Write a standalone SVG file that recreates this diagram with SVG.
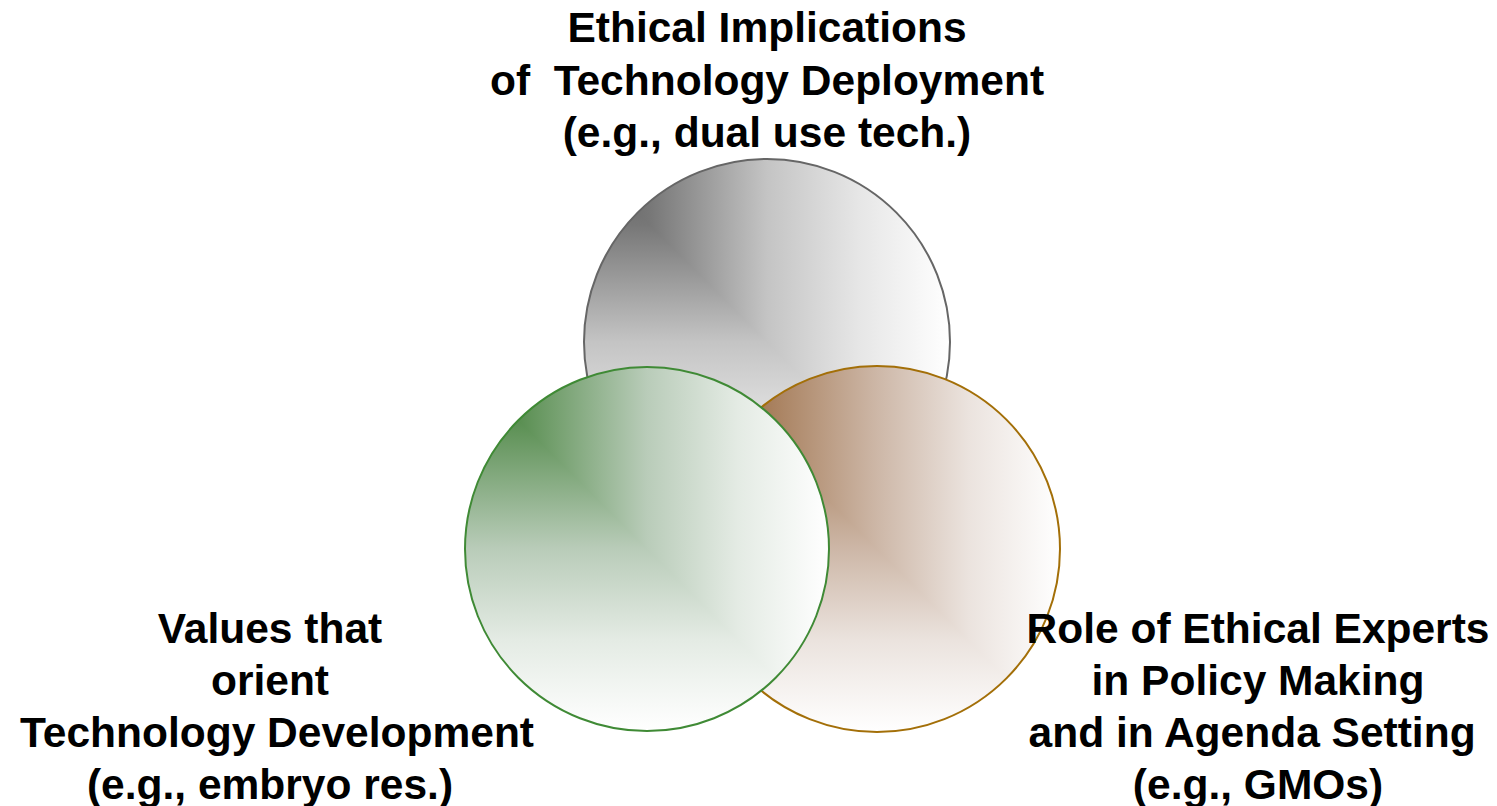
<svg xmlns="http://www.w3.org/2000/svg" width="1497" height="806" viewBox="0 0 1497 806">
<defs>
<style>
.lbl{font-family:"Liberation Sans",Arial,sans-serif;font-weight:bold;font-size:42.5px;fill:#000;text-anchor:middle;white-space:pre}
</style>
<linearGradient id="grayH" x1="0" y1="0" x2="1" y2="0">
<stop offset="0" stop-color="#5e5e5e"/><stop offset="0.18" stop-color="#777777"/><stop offset="0.5" stop-color="#c4c4c4"/><stop offset="0.75" stop-color="#e6e6e6"/><stop offset="1" stop-color="#ffffff"/>
</linearGradient>
<linearGradient id="grayV" x1="0" y1="0" x2="0" y2="1">
<stop offset="0" stop-color="#5e5e5e"/><stop offset="0.18" stop-color="#777777"/><stop offset="0.5" stop-color="#c4c4c4"/><stop offset="0.75" stop-color="#e6e6e6"/><stop offset="1" stop-color="#ffffff"/>
</linearGradient>
<linearGradient id="greenH" x1="0" y1="0" x2="1" y2="0">
<stop offset="0" stop-color="#3f7f35"/><stop offset="0.15" stop-color="#5a8f52"/><stop offset="0.5" stop-color="#b9ccb9"/><stop offset="0.75" stop-color="#e4ebe4"/><stop offset="1" stop-color="#ffffff"/>
</linearGradient>
<linearGradient id="greenV" x1="0" y1="0" x2="0" y2="1">
<stop offset="0" stop-color="#3f7f35"/><stop offset="0.15" stop-color="#5a8f52"/><stop offset="0.5" stop-color="#b9ccb9"/><stop offset="0.75" stop-color="#e4ebe4"/><stop offset="1" stop-color="#ffffff"/>
</linearGradient>
<linearGradient id="brownH" x1="0" y1="0" x2="1" y2="0">
<stop offset="0" stop-color="#8f5e34"/><stop offset="0.18" stop-color="#a47a56"/><stop offset="0.5" stop-color="#cdb7a7"/><stop offset="0.75" stop-color="#ebe3de"/><stop offset="1" stop-color="#ffffff"/>
</linearGradient>
<linearGradient id="brownV" x1="0" y1="0" x2="0" y2="1">
<stop offset="0" stop-color="#8f5e34"/><stop offset="0.18" stop-color="#a47a56"/><stop offset="0.5" stop-color="#cdb7a7"/><stop offset="0.75" stop-color="#ebe3de"/><stop offset="1" stop-color="#ffffff"/>
</linearGradient>
<clipPath id="clipGray"><polygon points="584,159 584,525 950,525"/></clipPath>
<clipPath id="clipGreen"><polygon points="465,367 465,731 829,731"/></clipPath>
<clipPath id="clipBrown"><polygon points="694,366 694,732 1060,732"/></clipPath>
</defs>
<g id="node-deployment">
<circle cx="767" cy="342" r="183" fill="url(#grayH)"/>
<circle cx="767" cy="342" r="183" fill="url(#grayV)" clip-path="url(#clipGray)"/>
<circle cx="767" cy="342" r="183" fill="none" stroke="#666666" stroke-width="2"/>
</g>
<g id="node-experts">
<circle cx="877" cy="549" r="183" fill="url(#brownH)"/>
<circle cx="877" cy="549" r="183" fill="url(#brownV)" clip-path="url(#clipBrown)"/>
<circle cx="877" cy="549" r="183" fill="none" stroke="#a36f08" stroke-width="2"/>
</g>
<g id="node-values">
<circle cx="647" cy="549" r="182" fill="url(#greenH)"/>
<circle cx="647" cy="549" r="182" fill="url(#greenV)" clip-path="url(#clipGreen)"/>
<circle cx="647" cy="549" r="182" fill="none" stroke="#3f8a35" stroke-width="2"/>
</g>
<g id="connectors"></g>
<g id="label-deployment">
<text class="lbl" x="767" y="42">Ethical Implications</text>
<text class="lbl" x="767" y="95">of  Technology Deployment</text>
<text class="lbl" x="767" y="147">(e.g., dual use tech.)</text>
</g>
<g id="label-values">
<text class="lbl" x="270" y="643">Values that</text>
<text class="lbl" x="270" y="695">orient</text>
<text class="lbl" x="277" y="747">Technology Development</text>
<text class="lbl" x="270" y="799">(e.g., embryo res.)</text>
</g>
<g id="label-experts">
<text class="lbl" x="1258" y="643">Role of Ethical Experts</text>
<text class="lbl" x="1258" y="695">in Policy Making</text>
<text class="lbl" x="1258" y="747">and in Agenda Setting </text>
<text class="lbl" x="1258" y="799">(e.g., GMOs)</text>
</g>
</svg>
